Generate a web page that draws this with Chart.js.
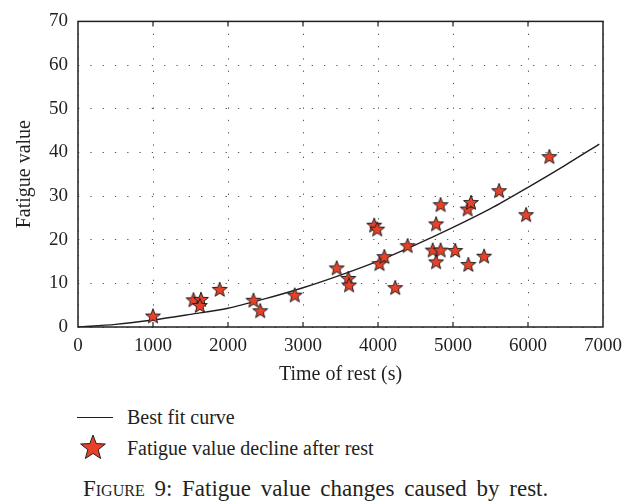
<!DOCTYPE html>
<html>
<head>
<meta charset="utf-8">
<title>Fatigue value changes caused by rest</title>
<script src="https://cdn.jsdelivr.net/npm/chart.js@4.4.1/dist/chart.umd.min.js"></script>
<style>
  body { margin: 0; background: #fff; }
  #wrap { position: relative; width: 641px; height: 504px; font-family: 'Liberation Serif', serif; color: #231f20; }
  #chart { position: absolute; left: 0; top: 0; }
  .legend-line { position: absolute; left: 77px; top: 417px; width: 36px; height: 1px; background: #231f20; }
  .legend-text { position: absolute; left: 127px; font-size: 20px; line-height: 24px; white-space: nowrap; }
  #legendStar { position: absolute; left: 78px; top: 433px; }
  .caption { position: absolute; left: 83px; top: 475px; font-size: 23px; line-height: 28px; word-spacing: 4px; white-space: nowrap; }
  .caption .sc { font-variant: small-caps; }
</style>
</head>
<body>
<div id="wrap">
  <canvas id="chart" width="641" height="400"></canvas>
  <div class="legend-line"></div>
  <div class="legend-text" style="top: 405px;">Best fit curve</div>
  <canvas id="legendStar" width="30" height="30"></canvas>
  <div class="legend-text" style="top: 436px;">Fatigue value decline after rest</div>
  <div class="caption"><span class="sc">Figure</span> 9: Fatigue value changes caused by rest.</div>
</div>
<script>
const restTimes = [1000, 1540, 1640, 1625, 1890, 2340, 2430, 2890, 3450, 3605, 3615, 3950, 3990, 4020, 4085,
  4230, 4395, 4730, 4835, 4775, 4835, 4775, 5030, 5195, 5240, 5205, 5415, 5615, 5975, 6285];
const fatigueValues = [2.4, 6.1, 6.2, 4.8, 8.5, 6.0, 3.6, 7.2, 13.4, 11.0, 9.5, 23.2, 22.3, 14.4, 16.0,
  8.9, 18.5, 17.5, 17.5, 23.5, 27.9, 14.8, 17.4, 26.9, 28.4, 14.2, 16.1, 31.1, 25.6, 38.9];

// Best fit curve, sampled from the figure
const fitTimes = [0, 500, 1000, 1500, 2000, 2500, 3000, 3500, 4000, 4500, 5000, 5500, 6000, 6500, 6950];
const fitValues = [0, 0.6, 1.6, 2.9, 4.3, 6.5, 9.0, 11.9, 15.1, 18.8, 22.8, 27.1, 32.0, 37.1, 41.9];

const xTicks = [0, 1000, 2000, 3000, 4000, 5000, 6000, 7000];
const yTicks = [0, 10, 20, 30, 40, 50, 60, 70];

const INK = '#231f20';
const STAR_RED = '#e8412a';
const FONT = "'Liberation Serif', 'Times New Roman', serif";

// Draw a filled 5-point star into a canvas context
function drawStar(ctx, cx, cy, R) {
  const r = R * 0.42;
  ctx.beginPath();
  for (let i = 0; i < 10; i++) {
    const a = -Math.PI / 2 + i * Math.PI / 5;
    const rad = i % 2 ? r : R;
    const px = cx + rad * Math.cos(a);
    const py = cy + rad * Math.sin(a);
    if (i === 0) ctx.moveTo(px, py); else ctx.lineTo(px, py);
  }
  ctx.closePath();
  ctx.fillStyle = STAR_RED;
  ctx.fill();
  ctx.lineWidth = 1;
  ctx.strokeStyle = INK;
  ctx.stroke();
}

function makeStarImage(R) {
  const size = Math.ceil(2 * R + 4);
  const c = document.createElement('canvas');
  c.width = size;
  c.height = size;
  drawStar(c.getContext('2d'), size / 2, size / 2, R);
  return c;
}

// Legend star
drawStar(document.getElementById('legendStar').getContext('2d'), 15, 15, 13);

// Frame around the plot with inward x ticks
const framePlugin = {
  id: 'frame',
  afterDraw(chart) {
    const { ctx, chartArea: a, scales } = chart;
    ctx.save();
    ctx.strokeStyle = INK;
    ctx.lineWidth = 1.5;
    ctx.strokeRect(a.left, a.top, a.right - a.left, a.bottom - a.top);
    ctx.lineWidth = 1.2;
    ctx.beginPath();
    xTicks.slice(1, -1).forEach(v => {
      const x = scales.x.getPixelForValue(v);
      ctx.moveTo(x, a.bottom);
      ctx.lineTo(x, a.bottom - 5);
      ctx.moveTo(x, a.top);
      ctx.lineTo(x, a.top + 5);
    });
    ctx.stroke();
    ctx.restore();
  }
};

new Chart(document.getElementById('chart'), {
  type: 'scatter',
  data: {
    datasets: [
      {
        label: 'Fatigue value decline after rest',
        data: restTimes.map((t, i) => ({ x: t, y: fatigueValues[i] })),
        pointStyle: makeStarImage(7.8),
        pointRadius: 8,
        order: 0
      },
      {
        label: 'Best fit curve',
        data: fitTimes.map((t, i) => ({ x: t, y: fitValues[i] })),
        showLine: true,
        borderColor: INK,
        borderWidth: 1.4,
        pointRadius: 0,
        tension: 0.3,
        order: 1
      }
    ]
  },
  plugins: [framePlugin],
  options: {
    responsive: false,
    animation: false,
    layout: { padding: { left: 0, right: 38, top: 13, bottom: 9 } },
    plugins: {
      legend: { display: false },
      tooltip: { enabled: false }
    },
    scales: {
      x: {
        type: 'linear',
        min: 0,
        max: 7000,
        afterFit: scale => { scale.height = 64; },
        afterBuildTicks: scale => { scale.ticks = xTicks.map(v => ({ value: v })); },
        ticks: {
          padding: 8,
          color: INK,
          font: { family: FONT, size: 19 },
          callback: v => String(v)
        },
        grid: { color: '#555', lineWidth: 1, drawTicks: false },
        border: { display: false, dash: [1.3, 11] },
        title: {
          display: true,
          text: 'Time of rest (s)',
          color: INK,
          font: { family: FONT, size: 20 },
          padding: { top: 0, bottom: 4 }
        }
      },
      y: {
        type: 'linear',
        min: 0,
        max: 70,
        afterFit: scale => { scale.width = 78; },
        afterBuildTicks: scale => { scale.ticks = yTicks.map(v => ({ value: v })); },
        ticks: {
          padding: 10,
          color: INK,
          font: { family: FONT, size: 19 },
          callback: v => String(v)
        },
        grid: { color: '#555', lineWidth: 1, drawTicks: false },
        border: { display: false, dash: [1.3, 11] },
        title: {
          display: true,
          text: 'Fatigue value',
          color: INK,
          font: { family: FONT, size: 20 },
          padding: { top: 13, bottom: 0 }
        }
      }
    }
  }
});
</script>
</body>
</html>
